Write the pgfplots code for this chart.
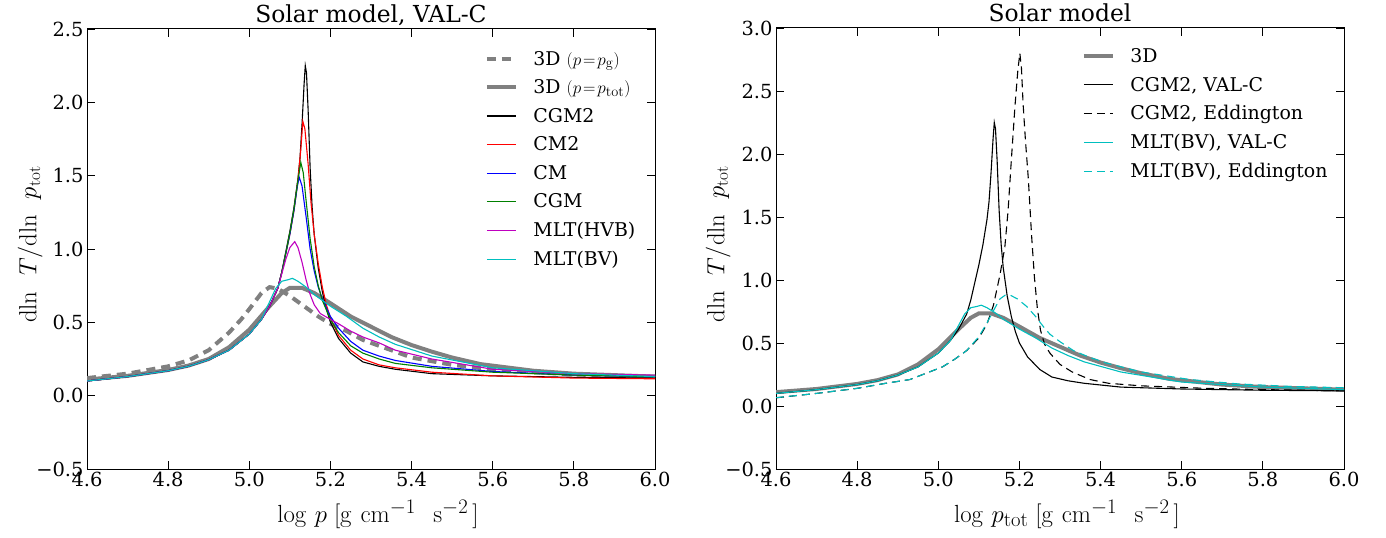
\documentclass[border=0pt]{standalone}
\usepackage[no-math]{fontspec}
\setmainfont{DejaVu Serif}
\newfontfamily\dvs{DejaVu Serif}
\usepackage{pgfplots}
\pgfplotsset{compat=1.18}

\definecolor{mplgray}{rgb}{0.5,0.5,0.5}
\definecolor{mplc}{rgb}{0,0.75,0.75}
\definecolor{mplm}{rgb}{0.75,0,0.75}
\definecolor{mplg}{rgb}{0,0.5,0}
\definecolor{mplb}{rgb}{0,0,1}
\definecolor{mplr}{rgb}{1,0,0}

\tikzset{
 lw/.style={line width=1.1bp},
 thickgray/.style={mplgray, line width=4bp},
 dashk/.style={dash pattern=on 8bp off 5bp},
}

\pgfplotsset{common/.style={
 scale only axis, width=568bp, height=440bp,
 xmin=4.6,xmax=6.0,
 xtick={4.6,4.8,5.0,5.2,5.4,5.6,5.8,6.0},
 xticklabels={4.6,4.8,5.0,5.2,5.4,5.6,5.8,6.0},
 tick align=inside, xtick pos=both, ytick pos=both,
 major tick length=8bp,
 tick style={black, line width=0.8bp},
 axis line style={line width=1bp},
 tick label style={font=\dvs\fontsize{19.5}{22}\selectfont},
 xlabel style={font=\fontsize{27.5}{30}\selectfont, at={(axis description cs:0.5,0)}, anchor=base, yshift=-53bp, xshift=7bp},
 ylabel style={font=\fontsize{25}{28}\selectfont},
 title style={font=\dvs\fontsize{23.5}{27}\selectfont, at={(axis description cs:0.5,1)}, anchor=base, yshift=1bp, inner sep=0pt},
 legend cell align=left,
 legend style={draw=none, fill=none, font=\dvs\fontsize{19}{22}\selectfont, anchor=north west, row sep=10bp,
   nodes={inner sep=1.5bp},
   /tikz/every odd column/.append style={column sep=14bp}},
 legend image code/.code={\draw[#1] (0bp,0bp) -- (29bp,0bp);},
}}

\begin{document}
\begin{tikzpicture}
\useasboundingbox (-87bp,-69bp) rectangle (1299bp,469bp);
\begin{axis}[common,
 ymin=-0.5, ymax=2.5,
 ytick={-0.5,0,0.5,1,1.5,2,2.5},
 yticklabels={−0.5,0.0,0.5,1.0,1.5,2.0,2.5},
 title={Solar model, VAL-C},
 xlabel={$\log\,p\;[\mathrm{g\ cm^{-1}\ \ s^{-2}}\,]$},
 ylabel={$\mathrm{dln}\ \ T/\mathrm{dln}\ \ p_{\mathrm{tot}}$},
 ylabel style={at={(axis description cs:-0.1,0.51)}, anchor=center},
 legend style={at={(0.695,0.958)}},
]
\addplot[thickgray, dash pattern=on 9bp off 6bp] coordinates {
(4.6,0.12)(4.65,0.135)(4.7,0.15)(4.75,0.175)(4.8,0.20)(4.85,0.24)(4.9,0.31)(4.95,0.43)(4.98,0.52)(5.0,0.59)(5.03,0.70)(5.05,0.74)(5.07,0.73)(5.1,0.68)(5.12,0.64)(5.15,0.58)(5.17,0.54)(5.2,0.49)(5.24,0.44)(5.28,0.38)(5.32,0.34)(5.36,0.30)(5.4,0.26)(5.45,0.235)(5.5,0.21)(5.6,0.18)(5.7,0.16)(5.8,0.145)(5.9,0.135)(6.0,0.13)};
\addlegendentry{3D $(p\!=\!p_{\mathrm{g}})$}
\addplot[thickgray] coordinates {
(4.6,0.11)(4.7,0.135)(4.8,0.175)(4.85,0.205)(4.9,0.25)(4.95,0.33)(5.0,0.45)(5.05,0.61)(5.08,0.70)(5.10,0.735)(5.13,0.735)(5.16,0.70)(5.2,0.63)(5.25,0.54)(5.3,0.47)(5.35,0.40)(5.4,0.345)(5.45,0.30)(5.5,0.26)(5.57,0.215)(5.7,0.17)(5.8,0.15)(5.9,0.14)(6.0,0.13)};
\addlegendentry{3D $(p\!=\!p_{\mathrm{tot}})$}
\addplot[lw, black] coordinates {
(4.6,0.10)(4.7,0.13)(4.8,0.17)(4.85,0.20)(4.9,0.245)(4.95,0.31)(5.0,0.42)(5.03,0.52)(5.05,0.61)(5.07,0.73)(5.08,0.84)(5.09,0.98)(5.10,1.12)(5.11,1.28)(5.12,1.48)(5.125,1.62)(5.13,1.85)(5.135,2.12)(5.138,2.25)(5.141,2.20)(5.145,1.95)(5.15,1.55)(5.155,1.28)(5.16,1.10)(5.17,0.87)(5.18,0.71)(5.19,0.59)(5.20,0.50)(5.22,0.39)(5.25,0.29)(5.28,0.23)(5.32,0.20)(5.36,0.18)(5.45,0.15)(5.6,0.135)(5.8,0.125)(6.0,0.12)};
\addlegendentry{CGM2}
\addplot[lw, mplr] coordinates {
(4.6,0.10)(4.7,0.13)(4.8,0.17)(4.85,0.20)(4.9,0.245)(4.95,0.31)(5.0,0.42)(5.03,0.52)(5.05,0.61)(5.07,0.73)(5.08,0.84)(5.09,0.97)(5.10,1.10)(5.11,1.26)(5.12,1.47)(5.127,1.68)(5.132,1.87)(5.137,1.82)(5.145,1.58)(5.152,1.32)(5.16,1.10)(5.17,0.90)(5.18,0.74)(5.19,0.62)(5.20,0.53)(5.22,0.41)(5.25,0.31)(5.28,0.25)(5.32,0.21)(5.36,0.19)(5.45,0.16)(5.6,0.135)(5.8,0.12)(6.0,0.115)};
\addlegendentry{CM2}
\addplot[lw, mplb] coordinates {
(4.6,0.10)(4.7,0.13)(4.8,0.17)(4.85,0.20)(4.9,0.245)(4.95,0.31)(5.0,0.42)(5.03,0.52)(5.05,0.61)(5.07,0.73)(5.08,0.84)(5.09,0.97)(5.10,1.10)(5.11,1.26)(5.118,1.42)(5.123,1.49)(5.13,1.43)(5.14,1.22)(5.15,1.00)(5.16,0.85)(5.17,0.74)(5.18,0.66)(5.20,0.54)(5.22,0.46)(5.25,0.37)(5.28,0.31)(5.32,0.27)(5.36,0.24)(5.45,0.20)(5.6,0.165)(5.8,0.14)(6.0,0.13)};
\addlegendentry{CM}
\addplot[lw, mplg] coordinates {
(4.6,0.10)(4.7,0.13)(4.8,0.17)(4.85,0.20)(4.9,0.245)(4.95,0.31)(5.0,0.42)(5.03,0.52)(5.05,0.61)(5.07,0.73)(5.08,0.84)(5.09,0.97)(5.10,1.11)(5.11,1.27)(5.12,1.47)(5.127,1.59)(5.133,1.52)(5.14,1.33)(5.15,1.07)(5.16,0.88)(5.17,0.75)(5.18,0.65)(5.20,0.52)(5.22,0.43)(5.25,0.34)(5.28,0.29)(5.32,0.25)(5.36,0.22)(5.45,0.19)(5.6,0.16)(5.8,0.14)(6.0,0.13)};
\addlegendentry{CGM}
\addplot[lw, mplm] coordinates {
(4.6,0.10)(4.7,0.13)(4.8,0.17)(4.85,0.20)(4.9,0.245)(4.95,0.31)(5.0,0.42)(5.03,0.52)(5.05,0.61)(5.07,0.73)(5.08,0.83)(5.09,0.93)(5.10,1.01)(5.112,1.05)(5.12,1.01)(5.13,0.91)(5.14,0.79)(5.15,0.69)(5.16,0.62)(5.175,0.56)(5.20,0.52)(5.22,0.49)(5.25,0.44)(5.28,0.40)(5.32,0.36)(5.36,0.31)(5.45,0.25)(5.6,0.18)(5.8,0.15)(6.0,0.14)};
\addlegendentry{MLT(HVB)}
\addplot[lw, mplc] coordinates {
(4.6,0.10)(4.7,0.13)(4.8,0.17)(4.85,0.20)(4.9,0.245)(4.95,0.31)(5.0,0.42)(5.03,0.52)(5.05,0.64)(5.065,0.73)(5.08,0.78)(5.095,0.79)(5.106,0.80)(5.12,0.78)(5.14,0.74)(5.16,0.69)(5.18,0.65)(5.20,0.61)(5.24,0.54)(5.28,0.46)(5.32,0.40)(5.36,0.35)(5.45,0.27)(5.6,0.19)(5.8,0.15)(6.0,0.13)};
\addlegendentry{MLT(BV)}
\end{axis}

\begin{axis}[common, at={(689bp,0bp)}, anchor=south west,
 height=441bp,
 ymin=-0.5, ymax=3.0,
 ytick={-0.5,0,0.5,1,1.5,2,2.5,3},
 yticklabels={−0.5,0.0,0.5,1.0,1.5,2.0,2.5,3.0},
 title={Solar model},
 xlabel={$\log\,p_{\mathrm{tot}}\;[\mathrm{g\ cm^{-1}\ \ s^{-2}}\,]$},
 ylabel={$\mathrm{dln}\ \ T/\mathrm{dln}\ \ p_{\mathrm{tot}}$},
 ylabel style={at={(axis description cs:-0.102,0.51)}, anchor=center},
 legend style={at={(0.533,0.962)}},
]
\addplot[thickgray] coordinates {
(4.6,0.11)(4.7,0.135)(4.8,0.175)(4.85,0.205)(4.9,0.25)(4.95,0.33)(5.0,0.45)(5.05,0.61)(5.08,0.70)(5.10,0.735)(5.13,0.735)(5.16,0.70)(5.2,0.63)(5.25,0.54)(5.3,0.47)(5.35,0.40)(5.4,0.345)(5.45,0.30)(5.5,0.26)(5.57,0.215)(5.7,0.17)(5.8,0.15)(5.9,0.14)(6.0,0.13)};
\addlegendentry{3D}
\addplot[lw, black] coordinates {
(4.6,0.10)(4.7,0.13)(4.8,0.17)(4.85,0.20)(4.9,0.245)(4.95,0.31)(5.0,0.42)(5.03,0.52)(5.05,0.61)(5.07,0.73)(5.08,0.84)(5.09,0.98)(5.10,1.12)(5.11,1.28)(5.12,1.48)(5.125,1.62)(5.13,1.85)(5.135,2.12)(5.138,2.25)(5.141,2.20)(5.145,1.95)(5.15,1.55)(5.155,1.28)(5.16,1.10)(5.17,0.87)(5.18,0.71)(5.19,0.59)(5.20,0.50)(5.22,0.39)(5.25,0.29)(5.28,0.23)(5.32,0.20)(5.36,0.18)(5.45,0.15)(5.6,0.135)(5.8,0.125)(6.0,0.12)};
\addlegendentry{CGM2, VAL-C}
\addplot[lw, black, dashk] coordinates {
(4.6,0.065)(4.7,0.10)(4.8,0.14)(4.87,0.18)(4.93,0.21)(4.97,0.26)(5.01,0.31)(5.04,0.37)(5.07,0.44)(5.10,0.54)(5.12,0.65)(5.136,0.80)(5.152,1.04)(5.164,1.26)(5.172,1.55)(5.18,1.95)(5.189,2.38)(5.196,2.66)(5.201,2.80)(5.205,2.68)(5.209,2.40)(5.215,2.10)(5.222,1.80)(5.23,1.35)(5.237,1.02)(5.244,0.78)(5.252,0.60)(5.262,0.49)(5.275,0.42)(5.30,0.33)(5.33,0.27)(5.374,0.21)(5.42,0.18)(5.5,0.16)(5.66,0.14)(5.8,0.13)(6.0,0.12)};
\addlegendentry{CGM2, Eddington}
\addplot[lw, mplc] coordinates {
(4.6,0.10)(4.7,0.13)(4.8,0.17)(4.85,0.20)(4.9,0.245)(4.95,0.31)(5.0,0.42)(5.03,0.52)(5.05,0.64)(5.065,0.73)(5.08,0.78)(5.095,0.79)(5.106,0.80)(5.12,0.78)(5.14,0.74)(5.16,0.69)(5.18,0.65)(5.20,0.61)(5.24,0.54)(5.28,0.46)(5.32,0.40)(5.36,0.35)(5.45,0.27)(5.6,0.19)(5.8,0.15)(6.0,0.13)};
\addlegendentry{MLT(BV), VAL-C}
\addplot[lw, mplc, dashk] coordinates {
(4.6,0.066)(4.7,0.10)(4.8,0.14)(4.87,0.18)(4.93,0.21)(4.97,0.26)(5.01,0.31)(5.04,0.37)(5.07,0.44)(5.10,0.55)(5.12,0.66)(5.14,0.78)(5.152,0.85)(5.165,0.88)(5.177,0.88)(5.195,0.85)(5.218,0.79)(5.24,0.71)(5.259,0.63)(5.275,0.57)(5.30,0.51)(5.333,0.44)(5.37,0.39)(5.415,0.34)(5.5,0.27)(5.62,0.21)(5.74,0.175)(5.87,0.155)(6.0,0.145)};
\addlegendentry{MLT(BV), Eddington}
\end{axis}
\end{tikzpicture}
\end{document}
